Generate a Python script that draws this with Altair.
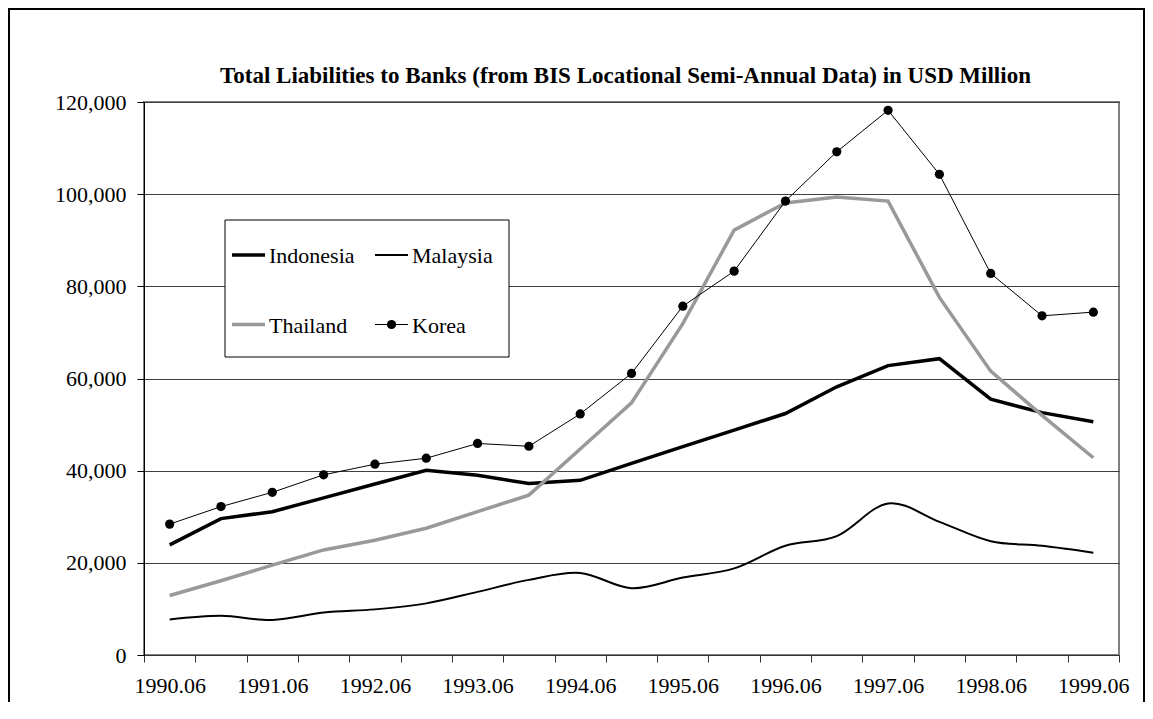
import json
import altair as alt
import pandas as pd

# ---------------- data ----------------
periods = ["1990.06", "1990.12", "1991.06", "1991.12", "1992.06", "1992.12",
           "1993.06", "1993.12", "1994.06", "1994.12", "1995.06", "1995.12",
           "1996.06", "1996.12", "1997.06", "1997.12", "1998.06", "1998.12",
           "1999.06"]
indonesia = [23900, 29600, 31100, 34100, 37100, 40100, 39000, 37200, 37900, 41600,
             45200, 48800, 52400, 58200, 62800, 64300, 55500, 52600, 50600]
malaysia = [7700, 8500, 7600, 9200, 9900, 11200, 13700, 16300, 17800, 14500,
            16800, 18800, 23700, 25800, 32900, 28900, 24700, 23700, 22200]
thailand = [12900, 16100, 19500, 22800, 24900, 27500, 31100, 34700, 44700, 54700,
            71900, 92200, 98100, 99400, 98500, 77600, 61600, 52000, 42800]
korea = [28400, 32200, 35300, 39100, 41400, 42700, 45900, 45300, 52300, 61100,
         75700, 83300, 98500, 109200, 118200, 104300, 82800, 73600, 74400]
y_ticks = [0, 20000, 40000, 60000, 80000, 100000, 120000]
title_text = "Total Liabilities to Banks (from BIS Locational Semi-Annual Data) in USD Million"

# ---------------- layout ----------------
FONT = "Liberation Serif"
FS = 22
TITLE_FS = 23
PLOT_W, PLOT_H = 975, 553
N = len(periods)
STEP = PLOT_W / N

def frame(values):
    return pd.DataFrame({"idx": list(range(N)), "period": periods, "value": values})

# tick at every category boundary, label at every other category centre
boundaries = [i - 0.5 for i in range(N + 1)]
labels = [(p if p.endswith(".06") else "") for p in periods] + [""]
label_expr = json.dumps(labels) + "[round(datum.value + 0.5)]"

x_enc = alt.X("idx:Q",
              scale=alt.Scale(domain=[-0.5, N - 0.5], nice=False, zero=False),
              axis=alt.Axis(values=boundaries, labelExpr=label_expr,
                            labelOffset=STEP / 2, tickSize=7, labelPadding=30,
                            labelBaseline="alphabetic", labelOverlap=False,
                            labelFlush=False, grid=False, title=None,
                            labelFont=FONT, labelFontSize=FS, labelColor="#000000",
                            domainColor="#333333", tickColor="#333333"))
y_enc = alt.Y("value:Q",
              scale=alt.Scale(domain=[0, 120000], nice=False),
              axis=alt.Axis(values=y_ticks, format=",.0f", tickSize=7,
                            labelPadding=11, labelBaseline="middle", grid=True,
                            labelFont=FONT, labelFontSize=FS, labelColor="#000000",
                            gridColor="#404040", gridWidth=1, title=None,
                            domainColor="#000000", tickColor="#000000"))

indo = alt.Chart(frame(indonesia)).mark_line(color="#000000", strokeWidth=3.5).encode(x=x_enc, y=y_enc)
mala = alt.Chart(frame(malaysia)).mark_line(color="#000000", strokeWidth=2, interpolate="cardinal").encode(x=x_enc, y=y_enc)
thai = alt.Chart(frame(thailand)).mark_line(color="#999999", strokeWidth=3.5).encode(x=x_enc, y=y_enc)
kor_line = alt.Chart(frame(korea)).mark_line(color="#000000", strokeWidth=1).encode(x=x_enc, y=y_enc)
kor_pts = alt.Chart(frame(korea)).mark_point(filled=True, color="#000000", size=85, opacity=1).encode(x=x_enc, y=y_enc)

# ---------------- title as a text mark ----------------
one = pd.DataFrame({"k": [0]})
title = alt.Chart(pd.DataFrame({"t": [title_text]})).mark_text(
    align="center", baseline="alphabetic", font=FONT, fontSize=TITLE_FS, fontWeight="bold",
    color="#000000").encode(text="t:N", x=alt.value(PLOT_W / 2 - 6), y=alt.value(-19))

# ---------------- manual legend (box with 2x2 entries) ----------------
leg_box = alt.Chart(one).mark_rect(fill="white", stroke="#000000", strokeWidth=1).encode(
    x=alt.value(81), x2=alt.value(365), y=alt.value(118), y2=alt.value(255))

def legend_entry(name, lx, ly, color, width, dot=False):
    layers = [
        alt.Chart(one).mark_rule(color=color, strokeWidth=width).encode(
            x=alt.value(lx), x2=alt.value(lx + 33), y=alt.value(ly)),
        alt.Chart(pd.DataFrame({"name": [name]})).mark_text(
            align="left", baseline="middle", font=FONT, fontSize=FS, color="#000000").encode(
            text="name:N", x=alt.value(lx + 37), y=alt.value(ly + 1)),
    ]
    if dot:
        layers.append(alt.Chart(one).mark_point(filled=True, color="#000000", size=85, opacity=1).encode(
            x=alt.value(lx + 16.5), y=alt.value(ly)))
    return layers

leg = [leg_box]
leg += legend_entry("Indonesia", 88, 153, "#000000", 3.5)
leg += legend_entry("Malaysia", 231, 153, "#000000", 2)
leg += legend_entry("Thailand", 88, 222.5, "#999999", 3.5)
leg += legend_entry("Korea", 231, 222.5, "#000000", 1, dot=True)

# outer chart border (decoration)
border = alt.Chart(one).mark_rect(fill=None, stroke="#000000", strokeWidth=2).encode(
    x=alt.value(-135), x2=alt.value(1000), y=alt.value(-93), y2=alt.value(640))

chart = alt.layer(indo, mala, thai, kor_line, kor_pts, title, *leg, border).properties(
    width=PLOT_W, height=PLOT_H,
    background="white",
    autosize=alt.AutoSizeParams(type="none"),
    padding={"left": 136, "top": 94, "right": 26, "bottom": 47},
).configure_view(stroke="#808080", strokeWidth=2)

chart.save("out.html", embed_options={"renderer": "svg", "actions": False})
